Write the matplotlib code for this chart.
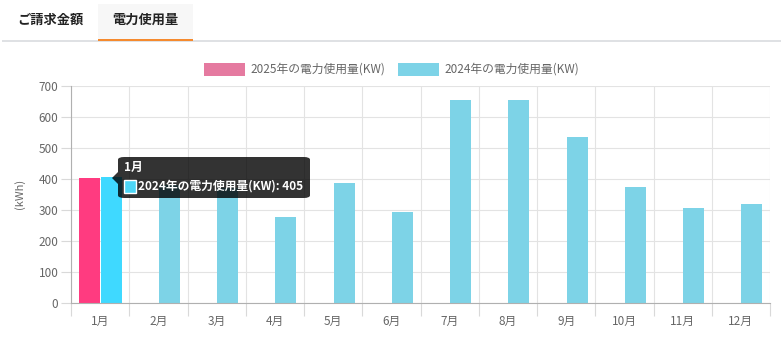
import matplotlib
matplotlib.use("Agg")
import matplotlib.pyplot as plt
from matplotlib.patches import Rectangle, FancyBboxPatch, Polygon
import numpy as np

plt.rcParams['font.family'] = ['Noto Sans CJK JP', 'DejaVu Sans']

# data
months = ["1月", "2月", "3月", "4月", "5月", "6月", "7月", "8月", "9月", "10月", "11月", "12月"]
usage_2025 = [403, None, None, None, None, None, None, None, None, None, None, None]
usage_2024 = [405, 380, 370, 275, 387, 293, 655, 655, 535, 373, 304, 319]
label_2025 = "2025年の電力使用量(KW)"
label_2024 = "2024年の電力使用量(KW)"
tabs = ["ご請求金額", "電力使用量"]

W, H = 781, 340
fig = plt.figure(figsize=(W / 100, H / 100), dpi=100)
fig.patch.set_facecolor("white")

def fx(px):
    return px / W

def fy(py):
    return 1 - py / H

# tabs on top
fig.patches.append(Rectangle((fx(98), fy(40)), fx(95), 36 / H, transform=fig.transFigure,
                             facecolor="#f7f7f7", edgecolor="none"))
fig.patches.append(Rectangle((fx(2), fy(42)), fx(779), 2 / H, transform=fig.transFigure,
                             facecolor="#dfe1e4", edgecolor="none"))
fig.patches.append(Rectangle((fx(98), fy(41)), fx(95), 2 / H, transform=fig.transFigure,
                             facecolor="#f58a2e", edgecolor="none", zorder=3))
fig.text(fx(50), fy(20), tabs[0], ha="center", va="center", fontsize=9.5, fontweight="bold", color="#222222")
fig.text(fx(145), fy(20), tabs[1], ha="center", va="center", fontsize=9.5, fontweight="bold", color="#222222")

# chart area
ax = fig.add_axes([fx(71), fy(302.5), fx(770) - fx(71), (302.5 - 86) / H])
x = np.arange(len(months))
w = 0.36
off = 0.19

vals25 = [v if v is not None else 0 for v in usage_2025]
colors25 = ["#ff3b80"] + ["#e57aa0"] * (len(months) - 1)
colors24 = ["#3fd9ff"] + ["#7dd3e7"] * (len(months) - 1)
ax.bar(x - off, vals25, width=w, color=colors25, zorder=2)
ax.bar(x + off, usage_2024, width=w, color=colors24, zorder=2)

ax.set_xlim(-0.5, len(months) - 0.5)
ax.set_ylim(0, 700)
ax.set_yticks(range(0, 701, 100))
ax.set_xticks(x)
ax.set_xticklabels(months)
ax.set_xticks(np.arange(-0.5, len(months)), minor=True)
ax.grid(axis="y", color="#e3e3e3", linewidth=0.8, zorder=0)
ax.grid(axis="x", which="minor", color="#e3e3e3", linewidth=0.8, zorder=0)
ax.tick_params(axis="x", which="major", length=0, pad=9, labelsize=8.5, labelcolor="#666666")
ax.tick_params(axis="x", which="minor", length=9, color="#d9d9d9", width=0.8)
ax.tick_params(axis="y", length=7, color="#d9d9d9", width=0.8, labelsize=8.5, labelcolor="#666666", pad=2)
for s in ["top", "right"]:
    ax.spines[s].set_visible(False)
ax.spines["left"].set_color("#b0b0b0")
ax.spines["bottom"].set_color("#b0b0b0")
ax.set_ylabel("(kWh)", fontsize=8, color="#666666", labelpad=10)

# legend
fig.patches.append(Rectangle((fx(204), fy(76)), fx(41), 13 / H, transform=fig.transFigure,
                             facecolor="#e57aa0", edgecolor="none"))
fig.text(fx(250), fy(69.5), label_2025, ha="left", va="center", fontsize=8.5, color="#666666")
fig.patches.append(Rectangle((fx(398), fy(76)), fx(41), 13 / H, transform=fig.transFigure,
                             facecolor="#7dd3e7", edgecolor="none"))
fig.text(fx(444), fy(69.5), label_2024, ha="left", va="center", fontsize=8.5, color="#666666")

# hover tooltip for January
fig.patches.append(FancyBboxPatch((fx(118), fy(198)), fx(192), 41 / H, transform=fig.transFigure,
                                  boxstyle="round,pad=0,rounding_size=0.008",
                                  facecolor=(0, 0, 0, 0.8), edgecolor="none", zorder=5))
fig.patches.append(Polygon([(fx(118), fy(172)), (fx(112), fy(178)), (fx(118), fy(184))],
                           closed=True, transform=fig.transFigure,
                           facecolor=(0, 0, 0, 0.8), edgecolor="none", zorder=5))
fig.text(fx(124), fy(167), months[0], ha="left", va="center", fontsize=8.5, fontweight="bold",
         color="white", zorder=6)
fig.patches.append(Rectangle((fx(124), fy(193)), fx(12), 13 / H, transform=fig.transFigure,
                             facecolor="#4dd6f6", edgecolor="white", linewidth=1, zorder=6))
fig.text(fx(138), fy(186.5), "%s: %d" % (label_2024, usage_2024[0]), ha="left", va="center",
         fontsize=8.5, fontweight="bold", color="white", zorder=6)

fig.savefig("out.png", dpi=100)
